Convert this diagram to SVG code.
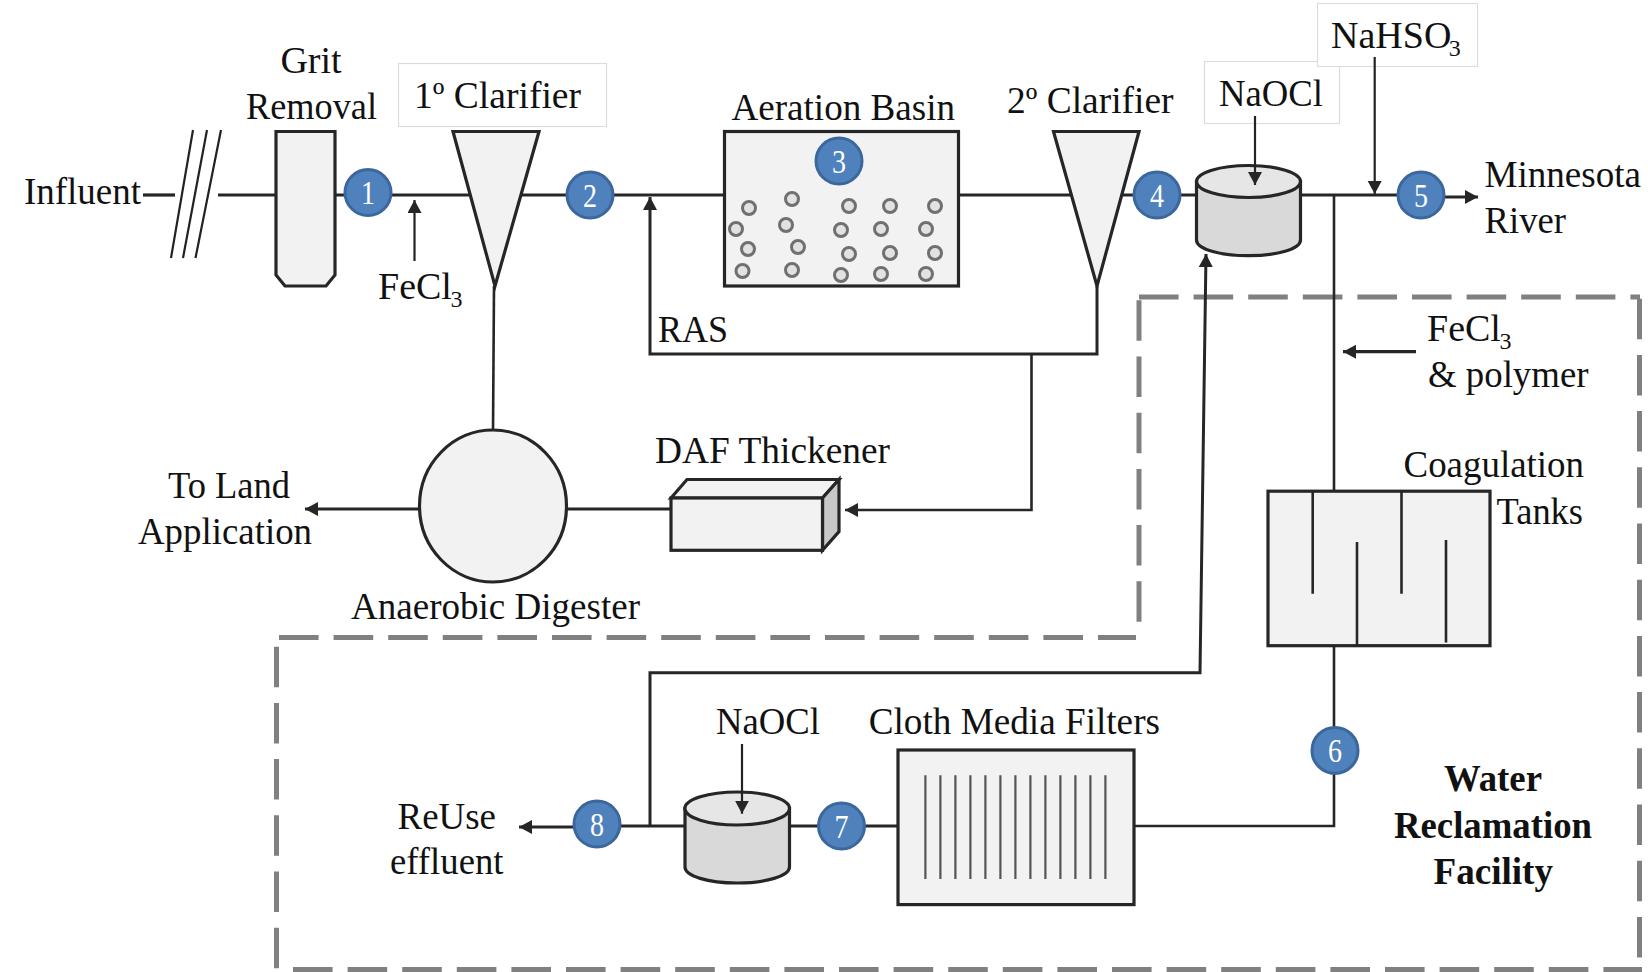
<svg xmlns="http://www.w3.org/2000/svg" width="1648" height="972" viewBox="0 0 1648 972">
<style>
text{font-family:"Liberation Serif","Times New Roman",serif;font-size:38px;fill:#111}
.b{font-weight:bold}
.sub{font-size:24px}
.n{font-size:33px;fill:#fff;text-anchor:middle}
.shape{fill:#f2f2f2;stroke:#262626;stroke-width:3.2}
.cyl{fill:#d9d9d9;stroke:#262626;stroke-width:3.2}
.cyt{fill:#e6e6e6;stroke:#262626;stroke-width:3.2}
.dot{fill:#4f81bd;stroke:#3c679c;stroke-width:3}
.bub{fill:#e2e2e2;stroke:#707070;stroke-width:3}
.lbl{fill:#fff;stroke:#dcdcdc;stroke-width:1.2}
.ln{fill:none;stroke:#262626;stroke-width:3.2}
.th{fill:none;stroke:#262626;stroke-width:2.6}
.thin{fill:none;stroke:#222;stroke-width:2.2}
.ar{marker-end:url(#a)}
.dash{fill:none;stroke:#808080;stroke-width:5;stroke-dasharray:39.6 15}
.dv{fill:none;stroke:#808080;stroke-width:5;stroke-dasharray:40.5 15.7}
.baf{stroke:#262626;stroke-width:2.6}
.fil{stroke:#555;stroke-width:2.2}
</style>
<defs>
<marker id="a" markerUnits="userSpaceOnUse" markerWidth="14" markerHeight="15" refX="13" refY="7" orient="auto"><path d="M0 0L13 7L0 14Z" fill="#262626"/></marker>
</defs>
<rect width="1648" height="972" fill="#fff"/>

<g id="facility-boundary">
<path class="dash" d="M279 637.400H1136"/>
<path class="dv" d="M1139 621.800V297"/>
<path class="dash" d="M1139 297H1640"/>
<path class="dv" d="M1639.500 298.700V968"/>
<path class="dash" d="M293 969.500H1642"/>
<path class="dv" d="M276.500 646.700V970"/>
</g>

<g id="label-boxes">
<rect class="lbl" x="398.500" y="63.500" width="208" height="63"/>
<rect class="lbl" x="1204.500" y="61.500" width="135" height="62"/>
<rect class="lbl" x="1317.500" y="3.500" width="160" height="63"/>
</g>

<g id="connectors">
<path class="ln" d="M143 195H175"/>
<path class="thin" d="M193 130L171 258M207 130L183 258M221 130L195.500 258"/>
<path class="ln" d="M218 195H1421"/>
<path class="ln ar" d="M1440 197H1478"/>
<path class="thin ar" d="M414.500 261V200"/>
<path class="th" d="M494 286L493 432"/>
<path class="ln ar" d="M1097 286V354H650V197" style="stroke-width:3"/>
<path class="th ar" d="M1031.500 354V510H845"/>
<path class="thin ar" d="M1374.700 57V194"/>
<path class="th" d="M1334 195V492"/>
<path class="ln ar" d="M1416 351.700H1343"/>
<path class="ln ar" d="M420 509H305"/>
<path class="ln" d="M566 509H672"/>
<path class="th" d="M1334 645V826H1134"/>
<path class="ln" d="M898 826H597"/>
<path class="ln ar" d="M600 827H519"/>
<path class="ln ar" d="M650 826V672.700H1200L1206 254" style="stroke-width:3"/>
</g>

<g id="influent"><text x="24" y="204" textLength="117" lengthAdjust="spacingAndGlyphs">Influent</text></g>

<g id="grit-removal">
<path class="shape" d="M276 131.500H335V275L326 286H285L276 275Z"/>
<text x="311" y="72.700" text-anchor="middle">Grit</text>
<text x="246" y="119" textLength="131" lengthAdjust="spacingAndGlyphs">Removal</text>
</g>

<g id="primary-clarifier">
<path class="shape" d="M453 131.500H539L495 286Z"/>
<text x="414" y="108" textLength="167" lengthAdjust="spacingAndGlyphs">1º Clarifier</text>
</g>

<g id="fecl3-dose"><text x="378" y="299">FeCl<tspan class="sub" dx="-1.500" dy="8">3</tspan></text></g>
<g id="ras-label"><text x="658" y="342" textLength="70" lengthAdjust="spacingAndGlyphs">RAS</text></g>

<g id="aeration-basin">
<rect class="shape" x="724.500" y="131.500" width="234" height="154.500"/>
<g>
<circle class="bub" cx="749" cy="208" r="6.500"/><circle class="bub" cx="792" cy="199" r="6.500"/>
<circle class="bub" cx="736" cy="229" r="6.500"/><circle class="bub" cx="786" cy="225" r="6.500"/>
<circle class="bub" cx="748" cy="249" r="6.500"/><circle class="bub" cx="798" cy="247" r="6.500"/>
<circle class="bub" cx="742.500" cy="271" r="6.500"/><circle class="bub" cx="792" cy="270" r="6.500"/>
<circle class="bub" cx="849" cy="206" r="6.500"/><circle class="bub" cx="890" cy="206" r="6.500"/><circle class="bub" cx="935" cy="206" r="6.500"/>
<circle class="bub" cx="841" cy="230" r="6.500"/><circle class="bub" cx="881" cy="229" r="6.500"/><circle class="bub" cx="926" cy="229" r="6.500"/>
<circle class="bub" cx="849" cy="254" r="6.500"/><circle class="bub" cx="890" cy="253" r="6.500"/><circle class="bub" cx="935" cy="253" r="6.500"/>
<circle class="bub" cx="841" cy="275" r="6.500"/><circle class="bub" cx="881" cy="274" r="6.500"/><circle class="bub" cx="926" cy="274" r="6.500"/>
</g>
<text x="731.500" y="120" textLength="223.500" lengthAdjust="spacingAndGlyphs">Aeration Basin</text>
</g>

<g id="secondary-clarifier">
<path class="shape" d="M1053.500 131.500H1139L1097 286Z"/>
<text x="1007" y="112.700" textLength="166.500" lengthAdjust="spacingAndGlyphs">2º Clarifier</text>
</g>

<g id="chlorine-contact">
<path class="cyl" d="M1196.500 181.500V240C1196.500 249 1220 255.700 1248.500 255.700S1300.500 249 1300.500 240V181.500Z"/>
<ellipse class="cyt" cx="1248.500" cy="181.500" rx="52" ry="16"/>
<text x="1219" y="106" textLength="104" lengthAdjust="spacingAndGlyphs">NaOCl</text>
</g>
<path class="thin ar" d="M1255 116V185"/>

<g id="nahso3-dose"><text x="1331" y="48">NaHSO<tspan class="sub" dx="-2.500" dy="8">3</tspan></text></g>
<g id="minnesota-river">
<text x="1484.500" y="186.700" textLength="156.500" lengthAdjust="spacingAndGlyphs">Minnesota</text>
<text x="1484.500" y="233" textLength="81.500" lengthAdjust="spacingAndGlyphs">River</text>
</g>
<g id="fecl3-polymer-dose">
<text x="1427" y="341">FeCl<tspan class="sub" dx="-1.500" dy="8">3</tspan></text>
<text x="1428" y="387" textLength="160.500" lengthAdjust="spacingAndGlyphs">&amp; polymer</text>
</g>

<g id="anaerobic-digester">
<ellipse class="shape" cx="493" cy="506" rx="73.500" ry="76"/>
<text x="351" y="618.700" textLength="289" lengthAdjust="spacingAndGlyphs">Anaerobic Digester</text>
</g>
<g id="land-application">
<text x="168" y="498.400" textLength="122" lengthAdjust="spacingAndGlyphs">To Land</text>
<text x="138" y="544" textLength="174" lengthAdjust="spacingAndGlyphs">Application</text>
</g>

<g id="daf-thickener">
<path class="shape" d="M671 498L687 479.500H839L822.500 498Z"/>
<path class="shape" style="fill:#c8c8c8" d="M822.500 498L839 479.500V531.600L822.500 550.300Z"/>
<rect class="shape" x="671" y="498" width="151.500" height="52.300"/>
<text x="655" y="462.900" textLength="235" lengthAdjust="spacingAndGlyphs">DAF Thickener</text>
</g>

<g id="coagulation-tanks">
<rect class="shape" x="1268" y="491.200" width="222" height="154.500"/>
<path class="baf" d="M1312.700 491.200V593.800M1357 542V645.700M1401.500 491.200V593.800M1446 540V642.600"/>
<text x="1403.500" y="477.400" textLength="180.500" lengthAdjust="spacingAndGlyphs">Coagulation</text>
<text x="1496.500" y="524" textLength="86.500" lengthAdjust="spacingAndGlyphs">Tanks</text>
</g>

<g id="cloth-media-filters">
<rect class="shape" x="898" y="750" width="236" height="154.600"/>
<path class="fil" d="M925.400 775.300V879M940.400 775.300V879M955.400 775.300V879M970.400 775.300V879M985.400 775.300V879M1000.400 775.300V879M1015.400 775.300V879M1030.400 775.300V879M1045.400 775.300V879M1060.400 775.300V879M1075.400 775.300V879M1090.400 775.300V879M1105.400 775.300V879"/>
<text x="868.700" y="733.500" textLength="291.300" lengthAdjust="spacingAndGlyphs">Cloth Media Filters</text>
</g>

<g id="reuse-chlorine">
<path class="cyl" d="M685 808.500V867C685 876 708 883 737 883S789.500 876 789.500 867V808.500Z"/>
<ellipse class="cyt" cx="737.200" cy="808.500" rx="52.300" ry="16.500"/>
<text x="716" y="733.500" textLength="104" lengthAdjust="spacingAndGlyphs">NaOCl</text>
</g>
<path class="thin ar" d="M742 744V813.700"/>

<g id="reuse-effluent">
<text x="397.500" y="829" textLength="98.500" lengthAdjust="spacingAndGlyphs">ReUse</text>
<text x="390" y="873.800" textLength="113.500" lengthAdjust="spacingAndGlyphs">effluent</text>
</g>

<g id="facility-label">
<text class="b" x="1444" y="790.500" textLength="98" lengthAdjust="spacingAndGlyphs">Water</text>
<text class="b" x="1394" y="837.500" textLength="198" lengthAdjust="spacingAndGlyphs">Reclamation</text>
<text class="b" x="1433.500" y="883.900" textLength="119.500" lengthAdjust="spacingAndGlyphs">Facility</text>
</g>

<g id="point-1"><circle class="dot" cx="368" cy="192.500" r="23"/><text class="n" x="368" y="204" textLength="14" lengthAdjust="spacingAndGlyphs">1</text></g>
<g id="point-2"><circle class="dot" cx="590" cy="195" r="23"/><text class="n" x="590" y="206.500" textLength="14" lengthAdjust="spacingAndGlyphs">2</text></g>
<g id="point-3"><circle class="dot" cx="839" cy="161" r="23"/><text class="n" x="839" y="172.500" textLength="14" lengthAdjust="spacingAndGlyphs">3</text></g>
<g id="point-4"><circle class="dot" cx="1157" cy="195" r="23"/><text class="n" x="1157" y="206.500" textLength="14" lengthAdjust="spacingAndGlyphs">4</text></g>
<g id="point-5"><circle class="dot" cx="1421" cy="195" r="23"/><text class="n" x="1421" y="206.500" textLength="14" lengthAdjust="spacingAndGlyphs">5</text></g>
<g id="point-6"><circle class="dot" cx="1335" cy="750.400" r="23"/><text class="n" x="1335" y="762" textLength="14" lengthAdjust="spacingAndGlyphs">6</text></g>
<g id="point-7"><circle class="dot" cx="841.500" cy="826" r="23"/><text class="n" x="841.500" y="837.500" textLength="14" lengthAdjust="spacingAndGlyphs">7</text></g>
<g id="point-8"><circle class="dot" cx="597" cy="824" r="23"/><text class="n" x="597" y="835.500" textLength="14" lengthAdjust="spacingAndGlyphs">8</text></g>
</svg>
